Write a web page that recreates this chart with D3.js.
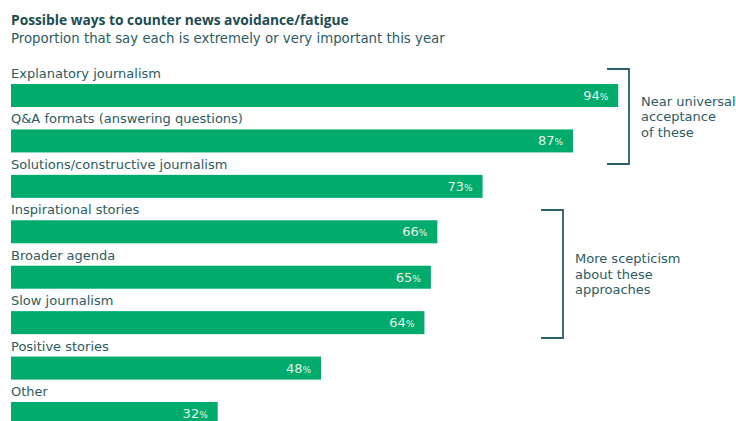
<!DOCTYPE html>
<html>
<head>
<meta charset="utf-8">
<script src="https://cdn.jsdelivr.net/npm/d3@7"></script>
<style>
  body { margin: 0; background: #fff; }
  svg { display: block; font-family: "DejaVu Sans", sans-serif; }
</style>
</head>
<body>
<svg id="chart" width="736" height="421"></svg>
<script>
const categories = [
  "Explanatory journalism",
  "Q&A formats (answering questions)",
  "Solutions/constructive journalism",
  "Inspirational stories",
  "Broader agenda",
  "Slow journalism",
  "Positive stories",
  "Other"
];
const values = [94, 87, 73, 66, 65, 64, 48, 32];
const groups = [
  { lines: ["Near universal", "acceptance", "of these"], from: 0, to: 2 },
  { lines: ["More scepticism", "about these", "approaches"], from: 3, to: 5 }
];
const title = "Possible ways to counter news avoidance/fatigue";
const subtitle = "Proportion that say each is extremely or very important this year";

const svg = d3.select("#chart");
const textColor = "#2c5b62";
const barColor = "#00ab6b";

const x = d3.scaleLinear().domain([0, 100]).range([11, 657]);
const rowStep = 45.43, rowTop = 84, barH = 23;
const y = i => rowTop + i * rowStep;

function fit(sel, target) {
  const w = sel.node().getComputedTextLength();
  const fs = +sel.attr("font-size");
  sel.attr("font-size", (fs * target / w).toFixed(2));
}

fit(svg.append("text").attr("x", 11).attr("y", 25)
  .attr("font-family", "'Open Sans', sans-serif")
  .attr("font-size", 13).attr("font-weight", 700).attr("fill", "#1b4c53").text(title), 338);
fit(svg.append("text").attr("x", 11).attr("y", 43)
  .attr("font-size", 13).attr("fill", textColor).text(subtitle), 434);

const rows = svg.append("g").selectAll("g").data(categories).join("g")
  .attr("transform", (d, i) => `translate(0,${y(i)})`);

rows.append("text").attr("x", 11).attr("y", -6)
  .attr("font-size", 13).attr("fill", textColor).text(d => d);

rows.append("rect").attr("x", x(0)).attr("y", 0)
  .attr("width", (d, i) => x(values[i]) - x(0)).attr("height", barH)
  .attr("fill", barColor);

const vt = rows.append("text")
  .attr("x", (d, i) => x(values[i]) - 10).attr("y", 16)
  .attr("text-anchor", "end").attr("fill", "#e6f2ec");
vt.append("tspan").attr("font-size", 13).text((d, i) => values[i]);
vt.append("tspan").attr("font-size", 9).text("%");

// brackets
const bx = [629, 563];
const btop = [69, 210];
const bbot = [164, 338];
groups.forEach((g, k) => {
  const xr = bx[k], t = btop[k], b = bbot[k];
  svg.append("path")
    .attr("d", `M${xr - 22},${t}H${xr}V${b}H${xr - 22}`)
    .attr("fill", "none").attr("stroke", "#2c5e65").attr("stroke-width", 1.8);
  const mid = (t + b) / 2;
  g.lines.forEach((l, j) => {
    svg.append("text").attr("x", xr + 12)
      .attr("y", mid + (j - 1) * 15.5 + 4.5)
      .attr("font-size", 13).attr("fill", textColor).text(l);
  });
});
</script>
</body>
</html>
